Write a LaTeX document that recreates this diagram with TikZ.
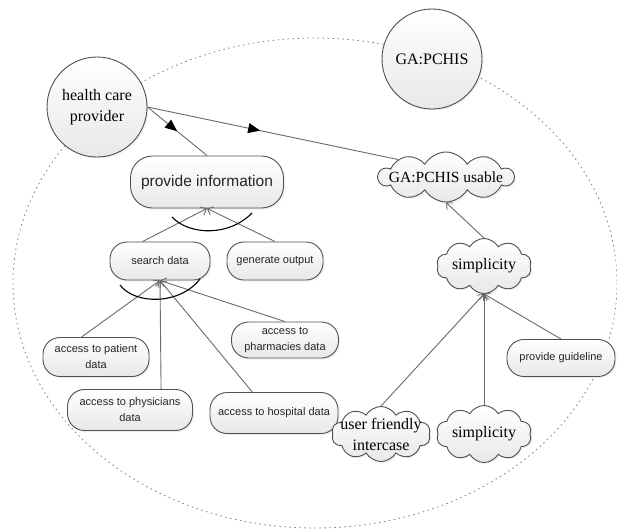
\documentclass[tikz,border=0pt]{standalone}
\usepackage{fontspec}
\setmainfont{Liberation Serif}
\newfontfamily\seriffont{Liberation Serif}
\newfontfamily\sansfont{Liberation Sans}
\usepackage{tikz}
\usetikzlibrary{arrows.meta, shapes.symbols, shadows, decorations.markings}

\definecolor{edgegray}{HTML}{505050}
\definecolor{linegray}{HTML}{6A6A6A}

\begin{document}
\begin{tikzpicture}[
    x=1pt, y=-1pt,
    >=Stealth,
    line width=0.9pt,
    actor/.style={circle, draw=edgegray, top color=white, bottom color=black!9,
        minimum size=100pt, inner sep=0pt, align=center,
        font=\seriffont\fontsize{16}{21}\selectfont,
        drop shadow={opacity=0.12, shadow xshift=1.5pt, shadow yshift=-1.5pt}},
    task/.style={rectangle, rounded corners=17pt, draw=edgegray, top color=white,
        bottom color=black!9, inner sep=0pt, align=center, text=black!85,
        font=\sansfont\fontsize{11}{16}\selectfont,
        drop shadow={opacity=0.12, shadow xshift=1.5pt, shadow yshift=-1.5pt}},
    softgoal/.style={cloud, cloud puffs=10, cloud puff arc=120, cloud ignores aspect,
        draw=edgegray, top color=white, bottom color=black!9, inner sep=0pt,
        drop shadow={opacity=0.12, shadow xshift=1.5pt, shadow yshift=-1.5pt}},
    cloudtext/.style={align=center, font=\seriffont\fontsize{16}{21}\selectfont},
    link/.style={draw=linegray, -{Straight Barb[length=5pt,width=9pt]}},
    dep/.style={draw=linegray, postaction={decorate},
        decoration={markings, mark=at position #1 with {\arrow[black]{Triangle[length=12pt,width=10pt]}}}},
    andarc/.style={black, line width=1.1pt}
]
\fill[white] (0,0) rectangle (617,528);
\useasboundingbox (0,0) rectangle (617,528);

%-------------------------
% System boundary
%-------------------------
\draw[gray, line width=0.8pt, dash pattern=on 1.5pt off 3.5pt]
    (315,283) ellipse [x radius=302, y radius=245];

%-------------------------
% Actors
%-------------------------
\node[actor] (hcp) at (97,107) {health care\\provider};
\node[actor] (gapchis) at (432,59) {GA:PCHIS};

%-------------------------
% Goal tree, left
%-------------------------
\node[task, minimum width=153pt, minimum height=52pt, rounded corners=22pt,
    font=\sansfont\fontsize{15.5}{18}\selectfont] (info) at (207,182) {provide information};
\node[task, minimum width=100pt, minimum height=38pt] (search) at (160,261) {search data};
\node[task, minimum width=96pt, minimum height=38pt] (genout) at (275,261) {generate output};
\node[task, minimum width=106pt, minimum height=39pt] (patient) at (96,357) {access to patient\\data};
\node[task, minimum width=125pt, minimum height=41pt] (physic) at (130,410) {access to physicians\\data};
\node[task, minimum width=107pt, minimum height=36pt] (pharma) at (285,340) {access to\\pharmacies data};
\node[task, minimum width=128pt, minimum height=41pt] (hospital) at (274,413) {access to hospital data};

%-------------------------
% Softgoals, right
%-------------------------
\node[softgoal, minimum width=135pt, minimum height=50pt,
    label={[cloudtext, font=\seriffont\fontsize{15.5}{21}\selectfont]center:GA:PCHIS usable}] (usable) at (446,177) {};
\node[softgoal, minimum width=95pt, minimum height=55pt,
    label={[cloudtext]center:simplicity}] (simptop) at (484,266) {};
\node[softgoal, minimum width=99pt, minimum height=55pt,
    label={[cloudtext]center:{user friendly\\intercase}}] (userfr) at (381,434) {};
\node[softgoal, minimum width=95pt, minimum height=57pt,
    label={[cloudtext]center:simplicity}] (simpbot) at (484,434) {};
\node[task, minimum width=108pt, minimum height=37pt] (guide) at (561,358) {provide guideline};

%-------------------------
% Dependencies
%-------------------------
\draw[dep=0.5] (hcp.east) -- (info.north);
\draw[dep=0.45] (hcp.east) -- (usable.160);

%-------------------------
% Decompositions
%-------------------------
\draw[link] (search.132) -- (info.south);
\draw[link] (genout.north) -- (info.south);
\draw[andarc] (172,217) .. controls (190,236) and (230,236) .. (252,213);

\draw[link] (patient.126) -- (search.south);
\draw[link] (physic.34) -- (search.south);
\draw[link] (hospital.136) -- (search.south);
\draw[link] (pharma.north) -- (search.south);
\draw[andarc] (120,285) .. controls (135,305) and (180,305) .. (200,279);

%-------------------------
% Contributions
%-------------------------
\draw[link] (simptop.north) -- (usable.south);
\draw[link] (userfr.north) -- (simptop.south);
\draw[link] (simpbot.north) -- (simptop.south);
\draw[link] (guide.north) -- (simptop.south);
\end{tikzpicture}
\end{document}
